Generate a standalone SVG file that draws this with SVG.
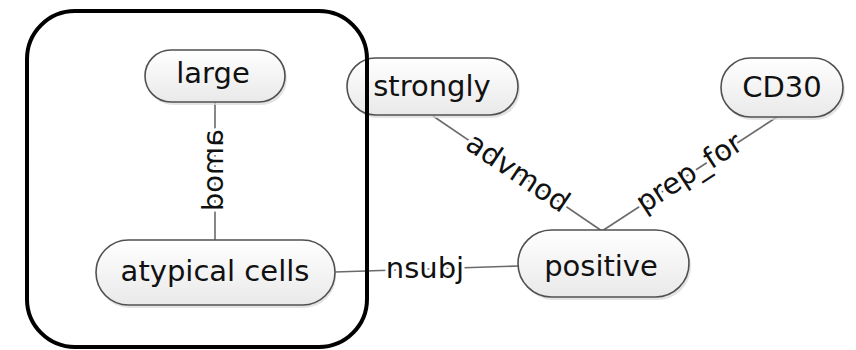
<svg xmlns="http://www.w3.org/2000/svg" width="856" height="350" viewBox="0 0 856 350">
<defs>
<linearGradient id="nodeFill" x1="0" y1="0" x2="0" y2="1">
<stop offset="0" stop-color="#ffffff"/>
<stop offset="1" stop-color="#e9e9e9"/>
</linearGradient>
</defs>
<style>
.node{fill:url(#nodeFill);stroke:#505050;stroke-width:1.6}
.shadow{fill:#d8d8d8;opacity:0.7}
.lbl{font-family:"DejaVu Sans",sans-serif;font-size:29px;fill:#111;text-anchor:middle}
.edge{stroke:#6a6a6a;stroke-width:1.6;fill:none}
.elbl{font-family:"DejaVu Sans",sans-serif;font-size:29px;fill:#111;text-anchor:middle;stroke:#fff;stroke-width:6;stroke-linejoin:round;paint-order:stroke}
</style>
<rect width="856" height="350" fill="#fff"/>
<g id="connectors">
<line class="edge" x1="215" y1="102" x2="215" y2="240"/>
<line class="edge" x1="335" y1="272" x2="518" y2="266"/>
<line class="edge" x1="433" y1="116" x2="602" y2="231"/>
<line class="edge" x1="777" y1="117" x2="602" y2="231"/>
<text class="elbl" transform="matrix(0 1 1 0 215 170)" x="0" y="8">amod</text>
<text class="elbl" x="425" y="278">nsubj</text>
<text class="elbl" transform="translate(517 174) rotate(34)" x="0" y="8">advmod</text>
<text class="elbl" transform="translate(690 174) rotate(-33)" x="0" y="8">prep_for</text>
</g>
<g id="node-large">
<rect class="shadow" x="147" y="53" width="140" height="52" rx="26"/>
<rect class="node" x="145" y="50" width="140" height="52" rx="26"/>
<text class="lbl" x="213" y="83">large</text>
</g>
<g id="node-strongly">
<rect class="shadow" x="349" y="61" width="171" height="57" rx="28.5"/>
<rect class="node" x="347" y="58" width="171" height="57" rx="28.5"/>
<text class="lbl" x="432" y="96">strongly</text>
</g>
<g id="node-CD30">
<rect class="shadow" x="723" y="61" width="122" height="59" rx="29.5"/>
<rect class="node" x="721" y="58" width="122" height="59" rx="29.5"/>
<text class="lbl" x="782" y="97">CD30</text>
</g>
<g id="node-atypical-cells">
<rect class="shadow" x="97" y="243" width="239" height="65" rx="32.5"/>
<rect class="node" x="96" y="240" width="239" height="65" rx="32.5"/>
<text class="lbl" x="215" y="281">atypical cells</text>
</g>
<g id="node-positive">
<rect class="shadow" x="520" y="233" width="171" height="67" rx="33.5"/>
<rect class="node" x="518" y="230" width="171" height="67" rx="33.5"/>
<text class="lbl" x="601" y="276">positive</text>
</g>
<g id="group-box">
<rect x="27" y="11" width="340" height="336" rx="48" fill="none" stroke="#000" stroke-width="4"/>
</g>
</svg>
